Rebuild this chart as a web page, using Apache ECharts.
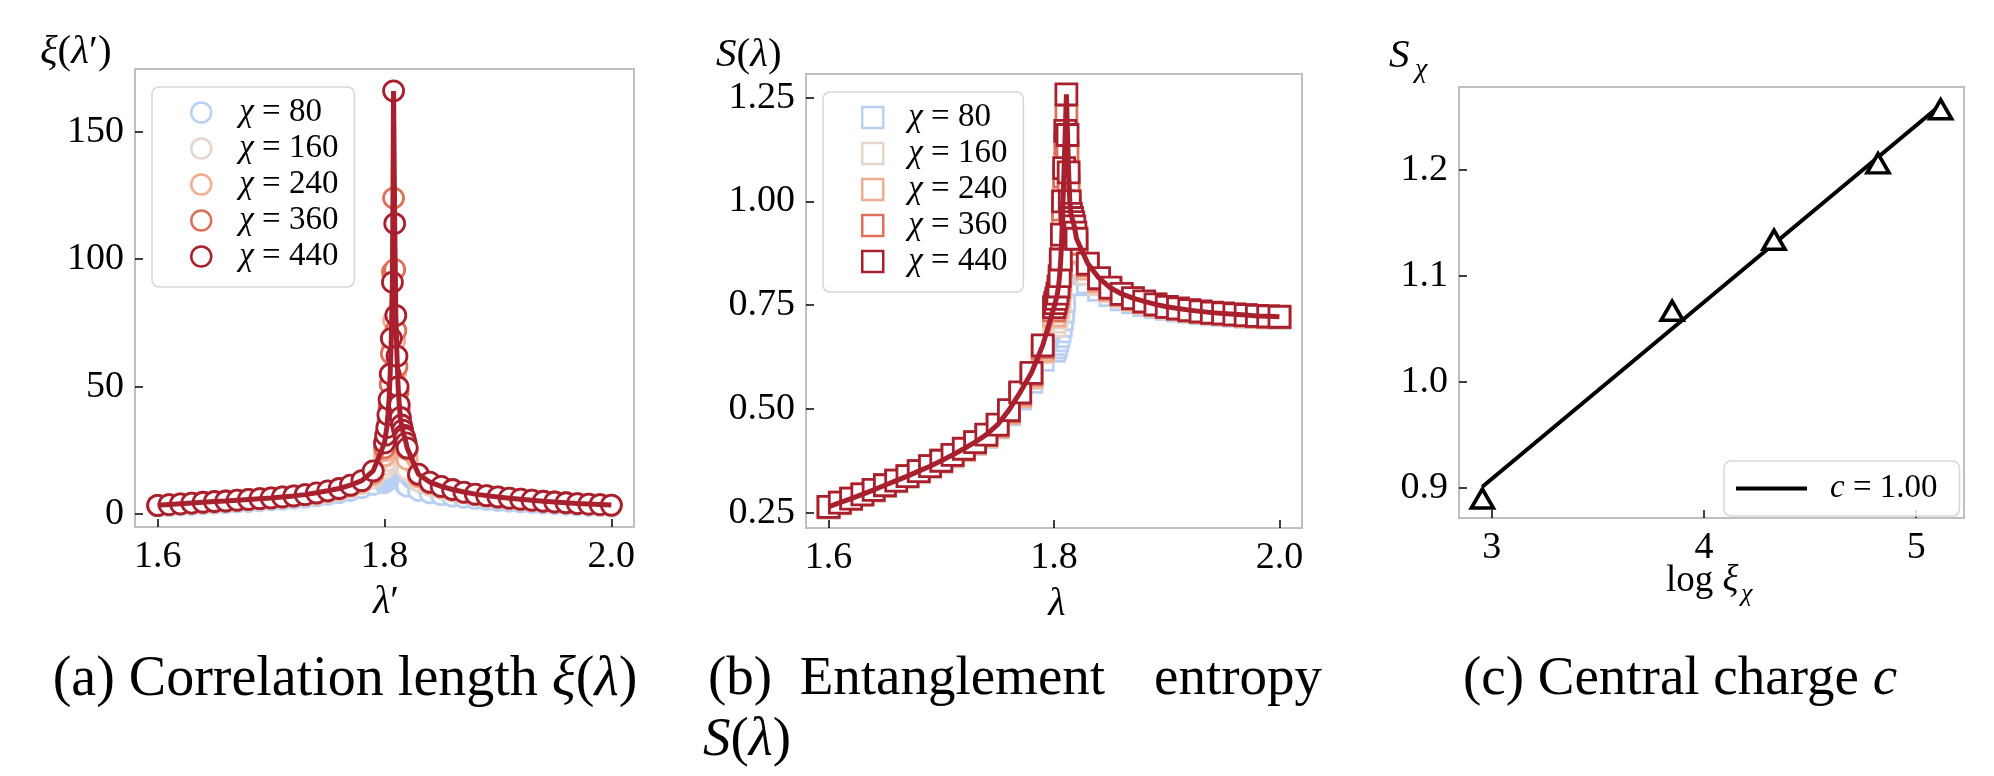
<!DOCTYPE html>
<html>
<head>
<meta charset="utf-8">
<title>Correlation length, entanglement entropy, central charge</title>
<script src="https://cdn.jsdelivr.net/npm/echarts@6/dist/echarts.min.js"></script>
<style>
  html, body { margin: 0; padding: 0; background: #fff; }
  #chart { width: 1994px; height: 776px; }
</style>
</head>
<body>
<div id="chart"></div>
<script>
// bond dimensions and their colours
const chis = [80, 160, 240, 360, 440]
const chiColors = ['#b9d0f3', '#e7d5cb', '#f1ad90', '#dd7059', '#a8202e']

// lambda grid: 0.01 steps, 0.001 steps around the transition
const lambdas = [
  1.60, 1.61, 1.62, 1.63, 1.64, 1.65, 1.66, 1.67, 1.68, 1.69,
  1.70, 1.71, 1.72, 1.73, 1.74, 1.75, 1.76, 1.77, 1.78, 1.79,
  1.800, 1.801, 1.802, 1.803, 1.804, 1.805, 1.806, 1.807, 1.808, 1.809, 1.810,
  1.811, 1.812, 1.813, 1.814, 1.815, 1.816, 1.817, 1.818, 1.819, 1.820,
  1.83, 1.84, 1.85, 1.86, 1.87, 1.88, 1.89, 1.90, 1.91,
  1.92, 1.93, 1.94, 1.95, 1.96, 1.97, 1.98, 1.99, 2.00
]

// (a) correlation length xi(lambda')
const xi80 = [
  3.2, 3.4, 3.6, 3.8, 4.0, 4.3, 4.5, 4.8, 5.0, 5.3, 5.6, 5.9, 6.3, 6.7, 7.2, 7.8, 8.5, 9.3, 10.4, 11.7,
  12.4, 12.9, 13.5, 14.1, 14.8, 15.5, 16.3, 17.2, 18.2, 19.2, 18.6, 17.6, 16.5, 15.4, 14.5, 13.7, 13.0, 12.4, 11.9, 11.4, 11.0,
  9.3, 8.4, 7.7, 7.1, 6.6, 6.2, 5.8, 5.4, 5.1, 4.8, 4.6, 4.3, 4.1, 3.9, 3.7, 3.5, 3.4, 3.2
]
const xi160 = [
  3.4, 3.6, 3.9, 4.2, 4.4, 4.7, 5.0, 5.2, 5.5, 5.8, 6.1, 6.5, 6.9, 7.4, 7.9, 8.6, 9.4, 10.5, 12.0, 14.3,
  18, 19.5, 21, 23, 26, 29, 33, 38, 43, 47, 44, 39, 34, 30, 27, 24.5, 22.5, 21, 19.5, 18.5, 17.5,
  13.2, 11.3, 10.1, 9.1, 8.3, 7.6, 7.0, 6.5, 6.1, 5.7, 5.3, 4.9, 4.6, 4.3, 4.0, 3.8, 3.6, 3.4
]
const xi240 = [
  3.4, 3.7, 4.0, 4.3, 4.6, 4.8, 5.1, 5.4, 5.7, 6.0, 6.3, 6.7, 7.1, 7.6, 8.2, 8.9, 9.8, 11.0, 12.7, 15.5,
  23, 25, 28, 32, 37, 44, 54, 65, 76, 68, 56, 47, 40, 35, 31, 28.5, 26.5, 25, 23.5, 22.5, 21.5,
  14.6, 12.0, 10.6, 9.4, 8.5, 7.8, 7.2, 6.7, 6.2, 5.8, 5.4, 5.0, 4.7, 4.4, 4.1, 3.9, 3.7, 3.5
]
const xi360 = [
  3.5, 3.8, 4.1, 4.4, 4.7, 4.9, 5.2, 5.5, 5.8, 6.1, 6.4, 6.8, 7.2, 7.7, 8.3, 9.1, 10.0, 11.3, 13.1, 16.5,
  26, 29, 32, 36, 42, 51, 63, 95, 124, 96, 72, 58, 48, 41, 37, 34, 32, 30, 29, 27, 25.5,
  15.3, 12.4, 10.8, 9.6, 8.6, 7.8, 7.2, 6.7, 6.3, 5.9, 5.5, 5.1, 4.8, 4.5, 4.2, 4.0, 3.8, 3.6
]
const xi440 = [
  3.5, 3.8, 4.1, 4.4, 4.7, 5.0, 5.2, 5.5, 5.8, 6.1, 6.4, 6.8, 7.2, 7.7, 8.4, 9.2, 10.1, 11.4, 13.2, 17.0,
  28, 31, 34, 39, 45, 55, 69, 91, 166, 114, 78, 62, 50, 43, 38, 35, 33, 31, 30, 28, 26,
  15.7, 12.6, 10.9, 9.7, 8.7, 7.9, 7.3, 6.8, 6.3, 5.9, 5.5, 5.1, 4.8, 4.5, 4.2, 4.0, 3.8, 3.6
]

// (b) entanglement entropy S(lambda)
const s80 = [
  0.262, 0.272, 0.282, 0.292, 0.303, 0.314, 0.325, 0.336, 0.347, 0.359, 0.372, 0.385, 0.400, 0.415, 0.432, 0.455, 0.487, 0.525, 0.565, 0.618,
  0.640, 0.648, 0.656, 0.665, 0.675, 0.687, 0.700, 0.716, 0.735, 0.760, 0.810, 0.870, 0.890, 0.875, 0.860, 0.846, 0.834, 0.824, 0.815, 0.807, 0.800,
  0.805, 0.787, 0.774, 0.764, 0.757, 0.750, 0.745, 0.741, 0.737, 0.734, 0.731, 0.728, 0.726, 0.724, 0.722, 0.721, 0.720, 0.719
]
const s160 = [
  0.263, 0.273, 0.283, 0.293, 0.304, 0.315, 0.326, 0.337, 0.349, 0.361, 0.373, 0.387, 0.401, 0.417, 0.434, 0.457, 0.490, 0.530, 0.574, 0.636,
  0.700, 0.710, 0.720, 0.732, 0.746, 0.765, 0.790, 0.825, 0.870, 0.930, 1.000, 1.067, 1.020, 0.970, 0.930, 0.905, 0.890, 0.877, 0.866, 0.856, 0.847,
  0.826, 0.800, 0.783, 0.771, 0.762, 0.755, 0.749, 0.744, 0.740, 0.736, 0.733, 0.730, 0.728, 0.726, 0.724, 0.722, 0.721, 0.720
]
const s240 = [
  0.263, 0.273, 0.283, 0.293, 0.304, 0.315, 0.326, 0.337, 0.349, 0.361, 0.374, 0.387, 0.401, 0.417, 0.435, 0.457, 0.490, 0.530, 0.577, 0.640,
  0.725, 0.735, 0.746, 0.758, 0.773, 0.795, 0.828, 0.875, 0.940, 1.020, 1.090, 1.134, 1.070, 1.000, 0.960, 0.940, 0.925, 0.912, 0.900, 0.889, 0.879,
  0.838, 0.807, 0.787, 0.774, 0.764, 0.757, 0.750, 0.745, 0.741, 0.737, 0.734, 0.731, 0.729, 0.727, 0.725, 0.723, 0.722, 0.721
]
const s360 = [
  0.264, 0.274, 0.284, 0.294, 0.305, 0.316, 0.327, 0.338, 0.350, 0.362, 0.375, 0.389, 0.403, 0.419, 0.437, 0.460, 0.494, 0.536, 0.583, 0.648,
  0.738, 0.748, 0.758, 0.770, 0.786, 0.810, 0.845, 0.900, 0.980, 1.060, 1.140, 1.206, 1.120, 1.040, 0.985, 0.960, 0.947, 0.935, 0.922, 0.910, 0.898,
  0.846, 0.812, 0.790, 0.776, 0.766, 0.758, 0.751, 0.746, 0.741, 0.737, 0.734, 0.731, 0.729, 0.727, 0.725, 0.723, 0.722, 0.721
]
const s440 = [
  0.264, 0.274, 0.284, 0.294, 0.305, 0.316, 0.327, 0.338, 0.350, 0.362, 0.375, 0.389, 0.404, 0.420, 0.438, 0.462, 0.497, 0.540, 0.587, 0.653,
  0.745, 0.755, 0.765, 0.778, 0.795, 0.820, 0.860, 0.920, 1.000, 1.080, 1.170, 1.258, 1.160, 1.070, 1.000, 0.970, 0.960, 0.950, 0.940, 0.925, 0.910,
  0.850, 0.815, 0.792, 0.777, 0.767, 0.759, 0.752, 0.746, 0.742, 0.738, 0.735, 0.732, 0.730, 0.728, 0.726, 0.724, 0.723, 0.722
]

// (c) central charge fit
const logXi = [2.956, 3.85, 4.33, 4.82, 5.115]
const sChi = [0.890, 1.067, 1.134, 1.206, 1.257]
const fitX = [2.956, 5.115]
const fitY = [0.901, 1.261]

// tick labels
const lambdaTicks = [1.6, 1.8, 2.0]
const xiTicks = [0, 50, 100, 150]
const sTicks = [0.25, 0.5, 0.75, 1.0, 1.25]
const logTicks = [3, 4, 5]
const sChiTicks = [0.9, 1.0, 1.1, 1.2]

const xiData = [xi80, xi160, xi240, xi360, xi440]
const sData = [s80, s160, s240, s360, s440]

const serif = "'Liberation Serif', 'DejaVu Serif', serif"
const pairs = ( xs, ys ) => xs.map( ( x, i ) => [x, ys[i]] )
// rich styles: r = upright serif, i = italic serif
const richStyles = size => ( {
  r : { fontSize : size, fontFamily : serif, lineHeight : size, color : '#000' },
  i : { fontStyle : 'italic', fontSize : size, fontFamily : serif, lineHeight : size, color : '#000' }
} )

const valueAxis = ( gridIndex, min, max, ticks, digits ) => ( {
  type : 'value',
  gridIndex,
  min,
  max,
  splitLine : { show : false },
  axisLine : { show : false, onZero : false },
  axisTick : {
    inside : true,
    length : 8,
    customValues : ticks,
    lineStyle : { color : '#000', width : 1.5 }
  },
  axisLabel : {
    customValues : ticks,
    formatter : v => v.toFixed( digits ),
    color : '#000',
    fontSize : 38,
    fontFamily : serif,
    margin : 11
  }
} )

const text = ( x, y, str, size, align = 'left' ) => ( {
  type : 'text',
  x,
  y,
  silent : true,
  style : {
    text : str,
    fontSize : size,
    fontFamily : serif,
    fill : '#000',
    align,
    verticalAlign : 'middle',
    rich : richStyles( size )
  }
} )

const series = []
chis.forEach( ( chi, k ) => {
  series.push( {
    name : 'a' + chi,
    type : 'scatter',
    xAxisIndex : 0,
    yAxisIndex : 0,
    data : pairs( lambdas, xiData[k] ),
    symbol : 'circle',
    symbolSize : 20,
    itemStyle : { color : '#fff', borderColor : chiColors[k], borderWidth : 2.8, opacity : 1 },
    z : 2 + 2 * k
  } )
  series.push( {
    type : 'line',
    xAxisIndex : 0,
    yAxisIndex : 0,
    data : pairs( lambdas, xiData[k] ),
    symbol : 'none',
    lineStyle : { color : chiColors[k], width : 5 },
    z : 3 + 2 * k
  } )
  series.push( {
    name : 'b' + chi,
    type : 'scatter',
    xAxisIndex : 1,
    yAxisIndex : 1,
    data : pairs( lambdas, sData[k] ),
    symbol : 'rect',
    symbolSize : 21,
    itemStyle : { color : '#fff', borderColor : chiColors[k], borderWidth : 2.8, opacity : 1 },
    z : 2 + 2 * k
  } )
  series.push( {
    type : 'line',
    xAxisIndex : 1,
    yAxisIndex : 1,
    data : pairs( lambdas, sData[k] ),
    symbol : 'none',
    lineStyle : { color : chiColors[k], width : 5 },
    z : 3 + 2 * k
  } )
} )

series.push( {
  name : 'fit',
  type : 'line',
  xAxisIndex : 2,
  yAxisIndex : 2,
  data : pairs( fitX, fitY ),
  symbol : 'none',
  lineStyle : { color : '#000', width : 4 },
  itemStyle : { color : '#000' },
  z : 3
} )
series.push( {
  name : 'points',
  type : 'scatter',
  xAxisIndex : 2,
  yAxisIndex : 2,
  data : pairs( logXi, sChi ),
  symbol : 'triangle',
  symbolSize : [22, 19],
  itemStyle : { color : '#fff', borderColor : '#000', borderWidth : 3.6, opacity : 1 },
  z : 4
} )

const legendBox = {
  selectedMode : false,
  backgroundColor : 'rgba(255,255,255,0.85)',
  borderColor : '#d6d6d6',
  borderWidth : 1.5,
  borderRadius : 7
}

const chiLegend = ( prefix, icon, size, left, top, textGap ) => ( {
  ...legendBox,
  orient : 'vertical',
  left,
  top,
  padding : [9, 16, 14, 38],
  itemWidth : size,
  itemHeight : size,
  itemGap : 3,
  data : chis.map( ( chi, k ) => ( {
    name : prefix + chi,
    icon,
    itemStyle : { color : '#fff', borderColor : chiColors[k], borderWidth : 2.5 }
  } ) ),
  formatter : name => `{i|χ} = ${name.slice( 1 )}`,
  textStyle : {
    color : '#000',
    fontSize : 33,
    fontFamily : serif,
    lineHeight : 33,
    padding : [0, 0, 0, textGap],
    rich : richStyles( 33 )
  }
} )

const chart = echarts.init( document.getElementById( 'chart' ) )

chart.setOption( {
  animation : false,
  backgroundColor : '#fff',
  textStyle : { fontFamily : serif },
  grid : [
    { left : 135, top : 69, width : 499, height : 458, show : true, borderColor : '#bfbfbf', borderWidth : 2 },
    { left : 806, top : 74, width : 496, height : 454, show : true, borderColor : '#bfbfbf', borderWidth : 2 },
    { left : 1459, top : 87, width : 505, height : 431, show : true, borderColor : '#bfbfbf', borderWidth : 2 }
  ],
  xAxis : [
    valueAxis( 0, 1.58, 2.02, lambdaTicks, 1 ),
    valueAxis( 1, 1.58, 2.02, lambdaTicks, 1 ),
    valueAxis( 2, 2.846, 5.225, logTicks, 0 )
  ],
  yAxis : [
    valueAxis( 0, -5, 174.6, xiTicks, 0 ),
    valueAxis( 1, 0.213, 1.307, sTicks, 2 ),
    valueAxis( 2, 0.8716, 1.278, sChiTicks, 1 )
  ],
  legend : [
    chiLegend( 'a', 'circle', 20, 152, 87, 23 ),
    chiLegend( 'b', 'rect', 21, 823, 92, 20 ),
    {
      ...legendBox,
      left : 1724,
      top : 461,
      padding : [11, 22, 11, 12],
      itemWidth : 71,
      itemHeight : 4,
      data : [{ name : 'fit', icon : 'rect', itemStyle : { color : '#000', borderWidth : 0 } }],
      formatter : () => '{i|c} = 1.00',
      textStyle : {
        color : '#000',
        fontSize : 33,
        fontFamily : serif,
        lineHeight : 33,
        padding : [0, 0, 0, 18],
        rich : richStyles( 33 )
      }
    }
  ],
  graphic : [
    // axis titles
    text( 40, 52, '{i|ξ}({i|λ}′)', 41 ),
    text( 386, 602, '{i|λ}′', 40, 'center' ),
    text( 716, 55, '{i|S}({i|λ})', 41 ),
    text( 1057, 604, '{i|λ}', 40, 'center' ),
    text( 1389, 56, '{i|S}', 41 ),
    text( 1415, 70, '{i|χ}', 28 ),
    text( 1666, 581, 'log {i|ξ}', 37 ),
    text( 1741, 594, '{i|χ}', 26 ),
    // sub-captions
    text( 345, 680, '(a) Correlation length {i|ξ}({i|λ})', 56, 'center' ),
    text( 708, 680, '(b)  Entanglement', 55 ),
    text( 1322, 680, 'entropy', 55, 'right' ),
    text( 703, 741, '{i|S}({i|λ})', 55 ),
    text( 1680, 680, '(c) Central charge {i|c}', 55, 'center' )
  ],
  series
} )

window.addEventListener( 'resize', () => chart.resize() )
</script>
</body>
</html>
